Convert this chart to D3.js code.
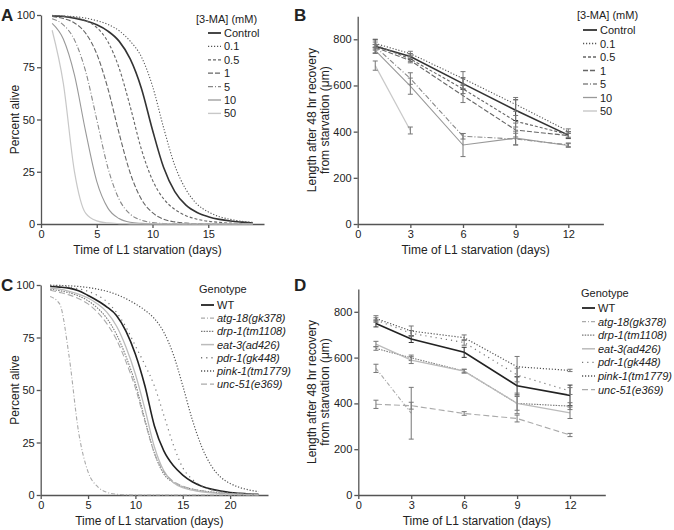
<!DOCTYPE html>
<html><head><meta charset="utf-8">
<title>Starvation survival and recovery</title>
<script src="https://d3js.org/d3.v7.min.js"></script>
<style>
  body { margin: 0; background: #fff; }
  svg text { font-family: 'Liberation Sans', Arial, sans-serif; fill: #222; }
</style>
</head>
<body>
<svg id="chart" width="674" height="530"></svg>
<script>
// ---------- data ----------
// panel A: survival curves by 3-MA concentration (percent alive per day)
var daysA = [1,2,3,4,5,6,7,8,9,10,11,12,13,14,15,16,17,18,19];
var maLabels = ["Control","0.1","0.5","1","5","10","50"];
var aControl = [99.6,99.3,98.5,97.2,95.3,92.3,87.5,79,65,45,27,15.5,9,5.5,3.5,2.2,1.4,0.9,0.5];
var a01 = [99.7,99.5,99.2,98.5,97.3,95.5,92.5,87.5,80,66,46,28,16.5,9.5,5.8,3.5,2.2,1.3,0.8];
var a05 = [99.8,99.5,98.8,97.3,94,87.2,74.7,56.2,35.8,21,12,7,4,2.3,1.3,0.8,0.4,0.2,0.1];
var a1 = [99.3,98.3,96.2,91.3,81.4,64.8,43.5,24.4,11.9,5.4,2.3,1,0.4,0.2,0.1,0,0,0,0];
var a5 = [98.2,95.3,88.1,73.1,50,26.9,11.9,4.7,1.8,0.7,0.25,0.1,0,0,0,0,0,0,0];
var a10 = [96,88.5,71.3,44.3,20.4,7.6,2.6,0.8,0.3,0.1,0,0,0,0,0,0,0,0,0];
var a50 = [92.7,67.4,25.1,5.2,1.5,0.5,0.2,0.1,0,0,0,0,0,0,0,0,0,0,0];

// panel B: body length after recovery (µm), mean and error
var daysB = [1,3,6,9,12];
var bControl = [770,725,608,493,385], bControlErr = [30,12,25,45,15];
var b01 = [782,738,630,518,402], b01Err = [15,10,30,30,10];
var b05 = [776,715,585,445,388], b05Err = [12,12,20,25,12];
var b1 = [765,708,556,407,383], b1Err = [12,10,30,30,10];
var b5 = [768,630,380,368,343], b5Err = [10,25,12,25,8];
var b10 = [752,597,342,372,340], b10Err = [12,35,50,30,8];
var b50 = [686,405,null,null,null], b50Err = [20,15,0,0,0];

// panel C: survival curves by genotype
var daysC = [1,2,3,4,5,6,7,8,9,10,11,12,13,14,15,16,17,18,19,20,21,22,23];
var genoLabels = ["WT","atg-18(gk378)","drp-1(tm1108)","eat-3(ad426)","pdr-1(gk448)","pink-1(tm1779)","unc-51(e369)"];
var cWT = [99.3,99,98.5,97.3,95,92.5,89.5,85.5,78,67,52,33,21,14,9.5,6.3,4.2,2.8,1.9,1.2,0.8,0.5,0.3];
var cAtg = [94.5,91,66,30,11,4,1.3,0.4,0.1,0,0,0,0,0,0,0,0,0,0,0,0,0,0];
var cDrp = [98,97.3,96.3,94.8,92.5,89,84,76.5,66,53,36,20,10,6,4,2.8,2,1.4,1,0.7,0.5,0.3,0.2];
var cEat = [98.5,98,97,95.7,93.8,91,87,80.5,70.5,57.5,41,23,11.5,6,3.5,2.3,1.5,1,0.7,0.5,0.3,0.2,0.1];
var cPdr = [99.8,99.5,99,98.2,97,95,92,87,80,71,62,52,38,24,13,7.5,4.3,2.6,1.6,1,0.6,0.4,0.2];
var cPink = [99.9,99.8,99.6,99.3,98.8,98,97,95.5,93.5,91,88,84,77.5,67,52,36,23,14,8.5,5.5,3.6,2.4,1.6];
var cUnc = [97.5,96.5,95.3,93.5,91,87,81.5,74,63.5,51,35,20,11,6.5,4.2,2.9,2,1.4,1,0.7,0.5,0.3,0.2];

// panel D: body length after recovery by genotype
var dWT = [749,681,623,477,435], dWTErr = [15,15,22,40,45];
var dAtg = [553,357,null,null,null], dAtgErr = [18,113,0,0,0];
var dDrp = [640,599,541,400,388], dDrpErr = [8,12,8,30,15];
var dEat = [659,589,541,400,359], dEatErr = [12,15,8,45,25];
var dPdr = [764,706,666,524,454], dPdrErr = [10,12,12,30,15];
var dPink = [771,716,687,560,544], dPinkErr = [12,22,12,45,5];
var dUnc = [396,390,356,334,262], dUncErr = [18,15,8,15,7];

// ---------- line styles ----------
var maStyle = [
  {c:"#333", w:1.6, d:null},
  {c:"#555", w:1.1, d:"1.2,1.8"},
  {c:"#666", w:1.1, d:"3,2"},
  {c:"#666", w:1.1, d:"5,2"},
  {c:"#888", w:1.1, d:"5,2,1,2"},
  {c:"#999", w:1.1, d:null},
  {c:"#c8c8c8", w:1.2, d:null}
];
var genoStyle = [
  {c:"#222", w:1.6, d:null},
  {c:"#aaa", w:1.1, d:"4,2,1,2"},
  {c:"#777", w:1.1, d:"1.5,1.2"},
  {c:"#bbb", w:1.3, d:null},
  {c:"#777", w:1.2, d:"1.2,4"},
  {c:"#555", w:1.2, d:"1.2,1.8"},
  {c:"#aaa", w:1.1, d:"6,3"}
];

var svg = d3.select("#chart");

function setupPanel(o) {
  var x = d3.scaleLinear().domain(o.xd).range(o.xr);
  var y = d3.scaleLinear().domain(o.yd).range(o.yr);
  var g = svg.append("g");
  var xa = g.append("g").attr("transform", "translate(0," + o.yr[0] + ")")
    .call(d3.axisBottom(x).tickValues(o.xt).tickSize(4).tickSizeOuter(0).tickPadding(2));
  var ya = g.append("g").attr("transform", "translate(" + o.xr[0] + ",0)")
    .call(d3.axisLeft(y).tickValues(o.yt).tickSize(4).tickSizeOuter(0).tickPadding(2));
  [xa, ya].forEach(function(a) {
    a.selectAll("path,line").attr("stroke", "#555").attr("stroke-width", 1.3);
    a.selectAll("text").style("font-size", "11px").attr("fill", "#222");
  });
  g.append("text").attr("x", (o.xr[0] + o.xr[1] - 10) / 2).attr("y", o.yr[0] + 30)
    .attr("text-anchor", "middle").style("font-size", "12px").text("Time of L1 starvation (days)");
  o.ylab.forEach(function(t, i) {
    g.append("text")
      .attr("transform", "translate(" + (o.ylabX + i * 12.5) + "," + ((o.yr[0] + o.yr[1]) / 2) + ") rotate(-90)")
      .attr("text-anchor", "middle").style("font-size", "12px").text(t);
  });
  g.append("text").attr("x", o.letter[0]).attr("y", o.letter[1])
    .style("font-size", "17px").style("font-weight", "bold").text(o.name);
  return {x: x, y: y, g: g};
}

function drawCurves(p, days, series, styles) {
  var line = d3.line().x(function(d) { return p.x(d[0]); }).y(function(d) { return p.y(d[1]); })
    .curve(d3.curveMonotoneX);
  series.forEach(function(vals, i) {
    var pts = days.map(function(d, j) { return [d, vals[j]]; });
    var s = styles[i];
    p.g.append("path").attr("d", line(pts)).attr("fill", "none")
      .attr("stroke", s.c).attr("stroke-width", s.w).attr("stroke-dasharray", s.d);
  });
}

function drawMeans(p, days, series, errs, styles) {
  var line = d3.line().defined(function(d) { return d[1] != null; })
    .x(function(d) { return p.x(d[0]); }).y(function(d) { return p.y(d[1]); });
  series.forEach(function(vals, i) {
    var pts = days.map(function(d, j) { return [d, vals[j]]; });
    var s = styles[i];
    p.g.append("path").attr("d", line(pts)).attr("fill", "none")
      .attr("stroke", s.c).attr("stroke-width", s.w).attr("stroke-dasharray", s.d);
    pts.forEach(function(pt, j) {
      if (pt[1] == null) return;
      var e = errs[i][j], cx = p.x(pt[0]);
      var y0 = p.y(pt[1] - e), y1 = p.y(pt[1] + e);
      var ec = i === 0 ? "#333" : "#777";
      p.g.append("line").attr("x1", cx).attr("x2", cx).attr("y1", y0).attr("y2", y1)
        .attr("stroke", ec).attr("stroke-width", 1);
      [y0, y1].forEach(function(yy) {
        p.g.append("line").attr("x1", cx - 2.5).attr("x2", cx + 2.5).attr("y1", yy).attr("y2", yy)
          .attr("stroke", ec).attr("stroke-width", 1);
      });
    });
  });
}

function drawLegend(o, title, labels, styles, italic) {
  var g = svg.append("g");
  g.append("text").attr("x", o.tx).attr("y", o.ty).style("font-size", "11px").text(title);
  labels.forEach(function(t, i) {
    var yy = o.y0 + i * o.dy;
    var s = styles[i];
    g.append("line").attr("x1", o.l0).attr("x2", o.l1).attr("y1", yy - 4).attr("y2", yy - 4)
      .attr("stroke", s.c).attr("stroke-width", s.w + 0.2).attr("stroke-dasharray", s.d);
    g.append("text").attr("x", o.l1 + 3).attr("y", yy).style("font-size", "11px")
      .style("font-style", italic && i > 0 ? "italic" : "normal").text(t);
  });
}

// ---------- panel A ----------
var pA = setupPanel({xd:[0,20], xr:[41,264], yd:[0,100], yr:[224,15], xt:[0,5,10,15], yt:[0,25,50,75,100],
  ylab:["Percent alive"], ylabX:19, letter:[1,21], name:"A"});
drawCurves(pA, daysA, [aControl,a01,a05,a1,a5,a10,a50], maStyle);
drawLegend({tx:196, ty:23, y0:37, dy:13.4, l0:208, l1:221}, "[3-MA] (mM)", maLabels, maStyle, false);

// ---------- panel B ----------
var pB = setupPanel({xd:[0,14], xr:[357.7,603.4], yd:[0,900], yr:[224,16.2], xt:[0,3,6,9,12], yt:[0,200,400,600,800],
  ylab:["Length after 48 hr recovery","from starvation (\u03bcm)"], ylabX:316, letter:[294,21], name:"B"});
drawMeans(pB, daysB, [bControl,b01,b05,b1,b5,b10,b50],
  [bControlErr,b01Err,b05Err,b1Err,b5Err,b10Err,b50Err], maStyle);
drawLegend({tx:577, ty:19, y0:34, dy:13.5, l0:583, l1:597}, "[3-MA] (mM)", maLabels, maStyle, false);

// ---------- panel C ----------
var pC = setupPanel({xd:[0,24], xr:[40.7,268], yd:[0,100], yr:[495,285], xt:[0,5,10,15,20], yt:[0,25,50,75,100],
  ylab:["Percent alive"], ylabX:19, letter:[1,291], name:"C"});
drawCurves(pC, daysC, [cWT,cAtg,cDrp,cEat,cPdr,cPink,cUnc], genoStyle);
drawLegend({tx:199, ty:293, y0:309, dy:13.2, l0:201, l1:214}, "Genotype", genoLabels, genoStyle, true);

// ---------- panel D ----------
var pD = setupPanel({xd:[0,14], xr:[358.3,605.3], yd:[0,900], yr:[495,288.9], xt:[0,3,6,9,12], yt:[0,200,400,600,800],
  ylab:["Length after 48 hr recovery","from starvation (\u03bcm)"], ylabX:316, letter:[294,291], name:"D"});
drawMeans(pD, daysB, [dWT,dAtg,dDrp,dEat,dPdr,dPink,dUnc],
  [dWTErr,dAtgErr,dDrpErr,dEatErr,dPdrErr,dPinkErr,dUncErr], genoStyle);
drawLegend({tx:581, ty:297, y0:312, dy:13.6, l0:582, l1:595}, "Genotype", genoLabels, genoStyle, true);
</script>
</body></html>
